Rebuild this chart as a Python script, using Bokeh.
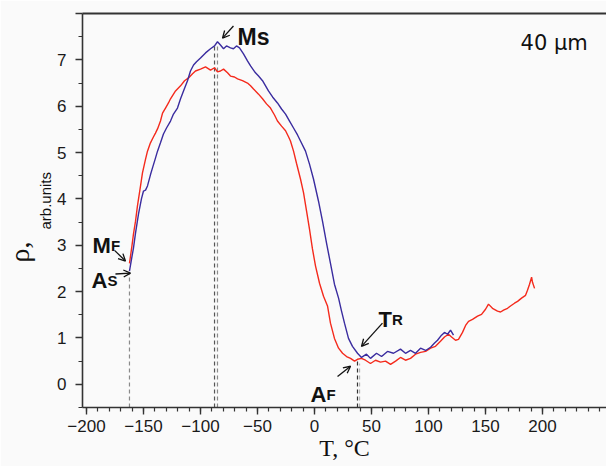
from bokeh.plotting import figure
from bokeh.models import Range1d, FixedTicker, Label, Arrow, OpenHead, LinearAxis, Title
from bokeh.embed import file_html
from bokeh.resources import INLINE

# ---- data ----
heat_T = [-162.3, -160.5, -158.8, -157.0, -155.3, -152.6, -150.9, -148.2, -146.5, -143.9,
          -141.2, -139.5, -137.7, -135.1, -133.3, -130.7, -128.1, -126.3, -121.9, -117.5,
          -114.0, -110.5, -107.0, -104.4, -100.0, -95.6, -91.2, -87.7, -85.1, -82.5,
          -79.8, -76.3, -73.7, -70.2, -67.5, -63.2, -58.8, -56.1, -53.5, -49.1,
          -45.6, -42.1, -38.6, -35.1, -32.5, -28.9, -25.4, -22.8, -21.1, -18.4,
          -15.8, -12.3, -9.6, -7.0, -4.4, -1.8, 0.9, 4.4, 7.9, 11.4,
          14.0, 17.5, 21.1, 24.6, 28.1, 31.6, 35.1, 37.7, 41.2, 44.7,
          49.1, 53.5, 57.9, 62.3, 66.7, 71.1, 75.4, 79.8, 84.2, 88.6,
          93.0, 97.4, 101.8, 106.1, 110.5, 114.0, 117.5, 120.2, 123.7, 126.3,
          129.8, 132.5, 135.1, 138.6, 143.0, 146.5, 150.0, 152.6, 156.1, 160.5,
          163.2, 165.8, 169.3, 171.9, 175.4, 178.1, 181.6, 185.1, 186.8, 188.6,
          190.4, 191.2, 193.0]
heat_rho = [2.61, 2.92, 3.24, 3.52, 3.85, 4.28, 4.56, 4.86, 5.03, 5.21,
            5.34, 5.42, 5.51, 5.68, 5.85, 5.96, 6.07, 6.16, 6.33, 6.44,
            6.55, 6.61, 6.70, 6.76, 6.80, 6.85, 6.78, 6.83, 6.74, 6.76,
            6.80, 6.72, 6.65, 6.63, 6.59, 6.55, 6.50, 6.44, 6.37, 6.26,
            6.16, 6.05, 5.96, 5.81, 5.68, 5.57, 5.47, 5.34, 5.25, 5.03,
            4.77, 4.43, 4.13, 3.74, 3.35, 2.92, 2.55, 2.18, 1.90, 1.69,
            1.32, 0.99, 0.78, 0.67, 0.60, 0.56, 0.50, 0.54, 0.56, 0.52,
            0.45, 0.52, 0.48, 0.50, 0.43, 0.50, 0.58, 0.52, 0.56, 0.65,
            0.69, 0.71, 0.78, 0.82, 0.93, 1.02, 1.08, 1.02, 0.95, 0.97,
            1.12, 1.27, 1.36, 1.40, 1.47, 1.51, 1.62, 1.73, 1.64, 1.58,
            1.56, 1.60, 1.64, 1.69, 1.75, 1.79, 1.86, 1.92, 2.03, 2.16,
            2.31, 2.20, 2.07]

cool_T = [-162.3, -160.5, -158.8, -157.0, -154.4, -151.8, -150.0, -148.2, -146.5, -143.9,
          -142.1, -139.5, -137.7, -135.1, -132.5, -129.8, -126.3, -123.7, -120.2, -117.5,
          -114.9, -111.4, -108.8, -106.1, -103.5, -100.0, -95.6, -91.2, -87.7, -85.1,
          -82.5, -79.8, -77.2, -73.7, -71.1, -68.4, -65.8, -62.3, -58.8, -56.1,
          -51.8, -49.1, -45.6, -40.4, -36.8, -32.5, -28.9, -25.4, -21.9, -18.4,
          -14.9, -12.3, -7.9, -4.4, -0.9, 3.5, 7.0, 10.5, 14.0, 17.5,
          21.1, 23.7, 26.3, 29.8, 33.3, 37.7, 41.2, 45.6, 49.1, 54.4,
          58.8, 64.0, 69.3, 75.4, 79.8, 84.2, 88.6, 93.0, 97.4, 101.8,
          105.3, 107.9, 111.4, 114.0, 116.7, 119.3, 121.9]
cool_rho = [2.44, 2.70, 2.94, 3.26, 3.67, 4.00, 4.17, 4.19, 4.28, 4.52,
            4.67, 4.88, 5.03, 5.21, 5.40, 5.53, 5.68, 5.83, 5.96, 6.16,
            6.33, 6.55, 6.76, 6.89, 6.96, 7.04, 7.15, 7.24, 7.30, 7.39,
            7.32, 7.24, 7.30, 7.26, 7.24, 7.30, 7.26, 7.13, 6.98, 6.87,
            6.72, 6.65, 6.55, 6.33, 6.20, 6.07, 5.94, 5.83, 5.68, 5.53,
            5.38, 5.25, 5.03, 4.75, 4.43, 3.95, 3.52, 3.05, 2.61, 2.16,
            1.86, 1.58, 1.32, 0.99, 0.82, 0.67, 0.58, 0.65, 0.56, 0.67,
            0.60, 0.71, 0.67, 0.76, 0.67, 0.73, 0.67, 0.78, 0.73, 0.80,
            0.89, 0.95, 1.06, 1.12, 1.08, 1.17, 1.06]

# transformation temperatures (dashed markers)
marker_T = [-162.3, -87.7, -85.1, 37.7, 39.5]
marker_top = [2.40, 7.33, 7.33, 0.50, 0.45]
marker_color = ["#8a8a8a", "#555555", "#8a8a8a", "#333333", "#b5b5b5"]

x_major = [-200, -150, -100, -50, 0, 50, 100, 150, 200]
x_minor = list(range(-210, 260, 10))
y_major = [0, 1, 2, 3, 4, 5, 6, 7, 8]
y_minor = [-0.5, 0.5, 1.5, 2.5, 3.5, 4.5, 5.5, 6.5, 7.5]

FONT = "Liberation Sans"

p = figure(width=606, height=466, x_range=Range1d(-203.5, 256.1), y_range=Range1d(-0.5, 8.0),
           output_backend="svg", toolbar_location=None,
           min_border_left=82, min_border_right=0, min_border_top=13, min_border_bottom=59)
p.background_fill_color = "#fafafa"
p.border_fill_color = "#fafafa"
p.outline_line_color = None
p.xgrid.visible = False
p.ygrid.visible = False

for ax in (p.xaxis[0], p.yaxis[0]):
    ax.axis_line_color = "#333333"
    ax.axis_line_width = 1.6
    ax.major_tick_line_color = "#333333"
    ax.minor_tick_line_color = "#333333"
    ax.major_tick_line_width = 1.4
    ax.minor_tick_line_width = 1.2
    ax.major_tick_in = 0
    ax.minor_tick_in = 0
    ax.major_label_text_font = FONT
    ax.major_label_text_font_size = "17px"
    ax.major_label_text_color = "#1a1a1a"

p.xaxis.ticker = FixedTicker(ticks=x_major, minor_ticks=x_minor)
p.xaxis.major_label_overrides = {t: str(t).replace("-", "\u2212") for t in x_major}
p.xaxis.major_tick_out = 7
p.xaxis.minor_tick_out = 4
p.xaxis.major_label_standoff = 5
p.xaxis.axis_label = "T, \u00b0C"
p.xaxis.axis_label_text_font = "Liberation Serif"
p.xaxis.axis_label_text_font_style = "normal"
p.xaxis.axis_label_text_font_size = "24px"
p.xaxis.axis_label_text_color = "#111111"
p.xaxis.axis_label_standoff = 0

p.yaxis.ticker = FixedTicker(ticks=y_major, minor_ticks=y_minor)
p.yaxis.major_label_overrides = {8: ""}
p.yaxis.major_tick_out = 7
p.yaxis.minor_tick_out = 4
p.yaxis.major_label_standoff = 9

top = LinearAxis(ticker=FixedTicker(ticks=[]), axis_line_color="#333333", axis_line_width=1.8,
                 major_tick_line_color=None, minor_tick_line_color=None,
                 major_tick_out=0, minor_tick_out=0, major_label_standoff=0,
                 major_label_text_font_size="0px")
p.add_layout(top, "above")

# y-axis title: "arb.units" (inner) and "rho," (outer) as side titles
p.add_layout(Title(text="arb.units", align="left", offset=178, vertical_align="middle", standoff=0,
                   text_font=FONT, text_font_size="15px",
                   text_font_style="normal", text_color="#111111"), "left")
p.add_layout(Title(text="\u03c1,", align="left", offset=145, vertical_align="middle", standoff=0,
                   text_font="Liberation Serif", text_font_size="28px",
                   text_font_style="normal", text_color="#111111"), "left")

# dashed markers
p.segment(x0=marker_T, y0=[-0.5] * len(marker_T), x1=marker_T, y1=marker_top,
          line_color=marker_color, line_width=1.2, line_dash="4 3")

p.line(heat_T, heat_rho, line_color="#f42a1c", line_width=1.4)
p.line(cool_T, cool_rho, line_color="#3a2c9f", line_width=1.4)

# text annotations (x, y, text, size)
ann = [
    (-67.5, 7.50, "Ms", "23px"),
    (-194.7, 3.00, "M", "22px"), (-178.5, 3.00, "F", "15px"),
    (-195.6, 2.25, "A", "22px"), (-181.6, 2.25, "S", "15px"),
    (56.1, 1.40, "T", "22px"), (68.0, 1.40, "R", "15px"),
    (-3.5, -0.22, "A", "22px"), (10.5, -0.22, "F", "15px"),
]
for x, y, t, s in ann:
    p.add_layout(Label(x=x, y=y, text=t, text_font=FONT, text_font_style="bold",
                       text_font_size=s, text_color="#111111", text_baseline="alphabetic"))

p.add_layout(Label(x=180.7, y=7.37, text="40 \u03bcm", text_font="DejaVu Sans", text_font_size="21px",
                   text_color="#111111", text_baseline="alphabetic"))

arrows = [
    (-71.1, 7.73, -80.7, 7.47),
    (-175.4, 2.89, -165.8, 2.66),
    (-174.6, 2.38, -161.4, 2.40),
    (59.6, 1.32, 41.2, 0.82),
    (20.2, 0.17, 31.6, 0.39),
]
for xs, ys, xe, ye in arrows:
    p.add_layout(Arrow(end=OpenHead(size=7, line_width=1.3, line_color="#111111"),
                       x_start=xs, y_start=ys, x_end=xe, y_end=ye,
                       line_width=1.3, line_color="#111111"))

open("out.html", "w").write(file_html(p, INLINE))
